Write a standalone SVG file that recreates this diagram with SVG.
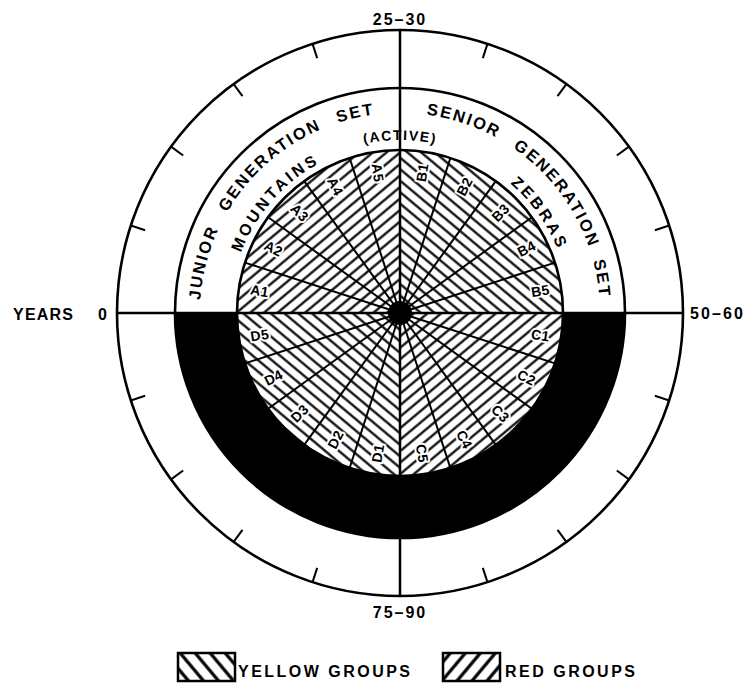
<svg xmlns="http://www.w3.org/2000/svg" width="745" height="686" viewBox="0 0 745 686">
<style>
.ln{stroke:#000;fill:none}
.ring{stroke:#000;stroke-width:2.6;fill:none}
.t{font-family:"Liberation Sans",Arial,sans-serif;font-weight:bold;fill:#000}
.arc{font-size:16.5px;letter-spacing:2px}
.lab{font-size:14px;letter-spacing:0.3px;text-anchor:middle;dominant-baseline:central;stroke:#fff;stroke-width:4;paint-order:stroke;stroke-linejoin:round}
.ax{font-size:16px}
.leg{font-size:16px}
</style>
<defs>
<pattern id="hatchRed" patternUnits="userSpaceOnUse" width="20" height="8.8" patternTransform="rotate(-40)">
<line x1="-1" y1="4.4" x2="21" y2="4.4" stroke="#000" stroke-width="2.2"/>
</pattern>
<pattern id="hatchYellow" patternUnits="userSpaceOnUse" width="20" height="8.8" patternTransform="rotate(40)">
<line x1="-1" y1="4.4" x2="21" y2="4.4" stroke="#000" stroke-width="2.2"/>
</pattern>
<pattern id="legYellow" patternUnits="userSpaceOnUse" width="20" height="11.5" patternTransform="rotate(50)">
<line x1="-1" y1="5.75" x2="21" y2="5.75" stroke="#000" stroke-width="3.2"/>
</pattern>
<pattern id="legRed" patternUnits="userSpaceOnUse" width="20" height="11.5" patternTransform="rotate(-50)">
<line x1="-1" y1="5.75" x2="21" y2="5.75" stroke="#000" stroke-width="3.2"/>
</pattern>
<path id="arcOuter" d="M200,313 A200,200 0 0 1 600,313"/>
<path id="arcMid" d="M230,313 A170,170 0 0 1 570,313"/>
<path id="arcActive" d="M227,313 A173,173 0 0 1 573,313"/>
<line id="spoke" x1="400" y1="313" x2="563" y2="313"/>
<line id="tick" x1="668" y1="313" x2="683" y2="313"/>
</defs>
<rect width="745" height="686" fill="#fff"/>

<g id="black-band">
<path d="M175,313 A225,225 0 0 0 625,313 L563,313 A163,163 0 0 1 237,313 Z" fill="#000"/>
</g>

<g id="hatching">
<path id="quad-A" d="M400,313 L237,313 A163,163 0 0 1 400,150 Z" fill="url(#hatchRed)"/>
<path id="quad-B" d="M400,313 L400,150 A163,163 0 0 1 563,313 Z" fill="url(#hatchYellow)"/>
<path id="quad-C" d="M400,313 L563,313 A163,163 0 0 1 400,476 Z" fill="url(#hatchRed)"/>
<path id="quad-D" d="M400,313 L400,476 A163,163 0 0 1 237,313 Z" fill="url(#hatchYellow)"/>
</g>

<g id="sector-labels" class="t lab">
<text id="A1" transform="translate(259.7,290.8) rotate(9)">A1</text>
<text id="A2" transform="translate(273.5,248.5) rotate(27)">A2</text>
<text id="A3" transform="translate(299.6,212.6) rotate(45)">A3</text>
<text id="A4" transform="translate(335.5,186.5) rotate(63)">A4</text>
<text id="A5" transform="translate(377.8,172.7) rotate(81)">A5</text>
<text id="B1" transform="translate(422.2,172.7) rotate(-81)">B1</text>
<text id="B2" transform="translate(464.5,186.5) rotate(-63)">B2</text>
<text id="B3" transform="translate(500.4,212.6) rotate(-45)">B3</text>
<text id="B4" transform="translate(526.5,248.5) rotate(-27)">B4</text>
<text id="B5" transform="translate(540.3,290.8) rotate(-9)">B5</text>
<text id="C1" transform="translate(540.3,335.2) rotate(9)">C1</text>
<text id="C2" transform="translate(526.5,377.5) rotate(27)">C2</text>
<text id="C3" transform="translate(500.4,413.4) rotate(45)">C3</text>
<text id="C4" transform="translate(464.5,439.5) rotate(63)">C4</text>
<text id="C5" transform="translate(422.2,453.3) rotate(81)">C5</text>
<text id="D5" transform="translate(259.7,335.2) rotate(-9)">D5</text>
<text id="D4" transform="translate(273.5,377.5) rotate(-27)">D4</text>
<text id="D3" transform="translate(299.6,413.4) rotate(-45)">D3</text>
<text id="D2" transform="translate(335.5,439.5) rotate(-63)">D2</text>
<text id="D1" transform="translate(377.8,453.3) rotate(-81)">D1</text>
</g>

<g id="connectors" class="ln" stroke-width="2">
<use href="#spoke" transform="rotate(-18 400 313)"/>
<use href="#spoke" transform="rotate(-36 400 313)"/>
<use href="#spoke" transform="rotate(-54 400 313)"/>
<use href="#spoke" transform="rotate(-72 400 313)"/>
<use href="#spoke" transform="rotate(-108 400 313)"/>
<use href="#spoke" transform="rotate(-126 400 313)"/>
<use href="#spoke" transform="rotate(-144 400 313)"/>
<use href="#spoke" transform="rotate(-162 400 313)"/>
<use href="#spoke" transform="rotate(18 400 313)"/>
<use href="#spoke" transform="rotate(36 400 313)"/>
<use href="#spoke" transform="rotate(54 400 313)"/>
<use href="#spoke" transform="rotate(72 400 313)"/>
<use href="#spoke" transform="rotate(108 400 313)"/>
<use href="#spoke" transform="rotate(126 400 313)"/>
<use href="#spoke" transform="rotate(144 400 313)"/>
<use href="#spoke" transform="rotate(162 400 313)"/>
<line x1="117" y1="313" x2="683" y2="313" stroke-width="2.5"/>
<line x1="400" y1="30" x2="400" y2="597" stroke-width="2.5"/>
</g>

<g id="hub">
<circle cx="400" cy="313" r="12" fill="#000"/>
</g>

<g id="rings">
<circle class="ring" cx="400" cy="313" r="283"/>
<circle class="ring" cx="400" cy="313" r="225"/>
<circle class="ring" cx="400" cy="313" r="163"/>
</g>

<g id="ticks" class="ln" stroke-width="2">
<use href="#tick" transform="rotate(-18 400 313)"/>
<use href="#tick" transform="rotate(-36 400 313)"/>
<use href="#tick" transform="rotate(-54 400 313)"/>
<use href="#tick" transform="rotate(-72 400 313)"/>
<use href="#tick" transform="rotate(-108 400 313)"/>
<use href="#tick" transform="rotate(-126 400 313)"/>
<use href="#tick" transform="rotate(-144 400 313)"/>
<use href="#tick" transform="rotate(-162 400 313)"/>
<use href="#tick" transform="rotate(18 400 313)"/>
<use href="#tick" transform="rotate(36 400 313)"/>
<use href="#tick" transform="rotate(54 400 313)"/>
<use href="#tick" transform="rotate(72 400 313)"/>
<use href="#tick" transform="rotate(108 400 313)"/>
<use href="#tick" transform="rotate(126 400 313)"/>
<use href="#tick" transform="rotate(144 400 313)"/>
<use href="#tick" transform="rotate(162 400 313)"/>
</g>

<g id="arc-labels" class="t arc">
<text id="junior"><textPath href="#arcOuter" startOffset="8%" text-anchor="middle">JUNIOR</textPath></text>
<text id="generation-left"><textPath href="#arcOuter" startOffset="27%" text-anchor="middle">GENERATION</textPath></text>
<text id="set-left"><textPath href="#arcOuter" startOffset="43%" text-anchor="middle">SET</textPath></text>
<text id="senior"><textPath href="#arcOuter" startOffset="60.2%" text-anchor="middle">SENIOR</textPath></text>
<text id="generation-right"><textPath href="#arcOuter" startOffset="79.3%" text-anchor="middle">GENERATION</textPath></text>
<text id="set-right"><textPath href="#arcOuter" startOffset="94.6%" text-anchor="middle">SET</textPath></text>
<text id="mountains" style="font-size:16px;letter-spacing:3px"><textPath href="#arcMid" startOffset="23%" text-anchor="middle">MOUNTAINS</textPath></text>
<text id="zebras" style="font-size:16px;letter-spacing:3px"><textPath href="#arcMid" startOffset="80.3%" text-anchor="middle">ZEBRAS</textPath></text>
<text id="active" style="font-size:14px;letter-spacing:1.5px"><textPath href="#arcActive" startOffset="50%" text-anchor="middle">(ACTIVE)</textPath></text>
</g>

<g id="axis-labels" class="t ax">
<text id="lbl-25-30" x="400" y="25" text-anchor="middle" letter-spacing="2">25–30</text>
<text id="lbl-75-90" x="400" y="618" text-anchor="middle" letter-spacing="2">75–90</text>
<text id="lbl-years" x="13" y="320" textLength="60" lengthAdjust="spacing">YEARS</text>
<text id="lbl-0" x="98" y="320">0</text>
<text id="lbl-50-60" x="690" y="319" textLength="53" lengthAdjust="spacing">50–60</text>
</g>

<g id="legend-yellow">
<rect x="178" y="653" width="57" height="28" fill="url(#legYellow)" stroke="#000" stroke-width="2.5"/>
<text class="t leg" x="238" y="677" textLength="172" lengthAdjust="spacing">YELLOW GROUPS</text>
</g>
<g id="legend-red">
<rect x="443" y="653" width="57" height="28" fill="url(#legRed)" stroke="#000" stroke-width="2.5"/>
<text class="t leg" x="505" y="677" textLength="130" lengthAdjust="spacing">RED GROUPS</text>
</g>
</svg>
